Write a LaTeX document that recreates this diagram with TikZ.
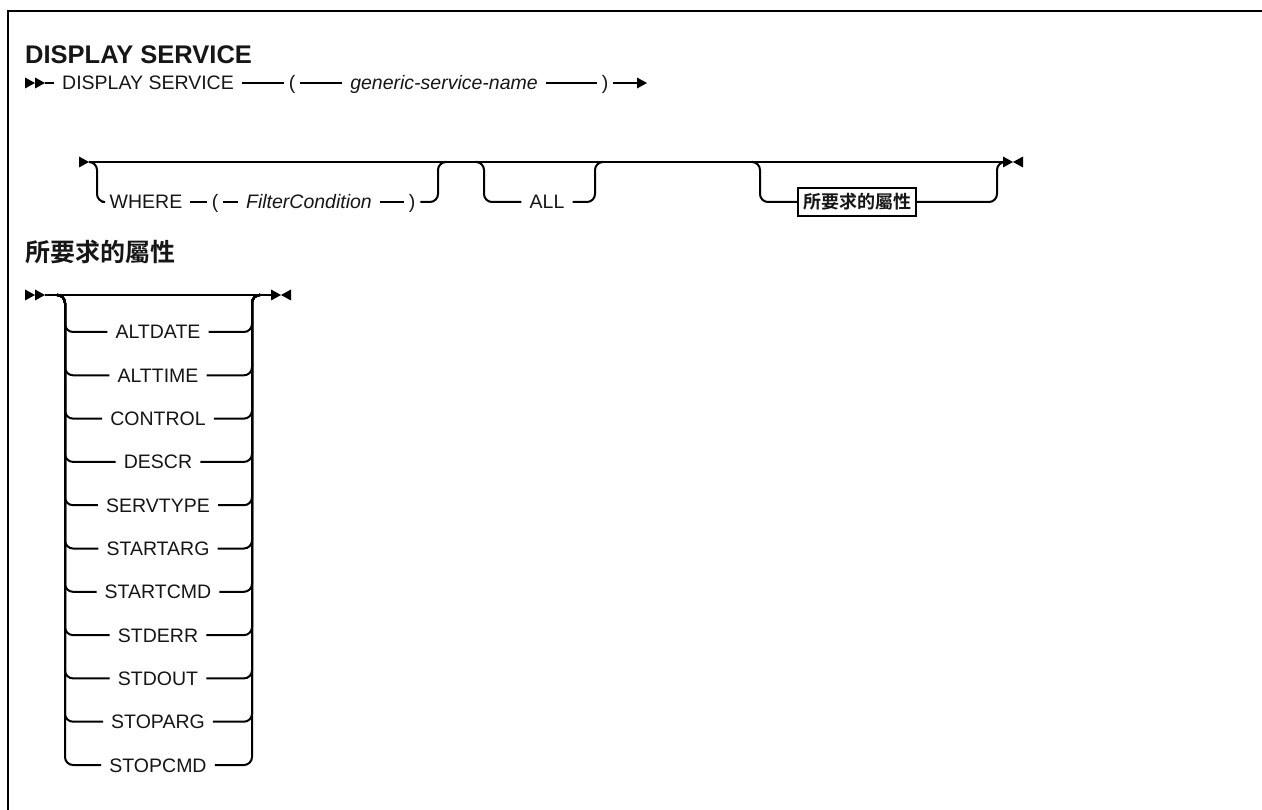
\documentclass[tikz,border=0pt]{standalone}
\usepackage{fontspec}
\setmainfont{Liberation Sans}
\newfontfamily\cjk{Noto Sans CJK TC}[BoldFont={Noto Sans CJK TC Bold}]
\usetikzlibrary{calc}
\definecolor{cBg}   {RGB}{255,255,255}
\definecolor{cLine} {RGB}{0,0,0}
\definecolor{cText} {RGB}{22,22,22}
\def\yA{83}    % first rail
\def\yB{162}   % second rail
\def\yBr{202}  % branches under the second rail
\def\yC{295}   % rail of the attribute list
\def\dy{43.3}  % step between attributes
\newcommand{\tipR}[1]{\fill[cLine] (#1) ++(0,-5.5) -- ++(10,5.5) -- ++(-10,5.5) -- cycle;}
\newcommand{\tipL}[1]{\fill[cLine] (#1) ++(0,-5.5) -- ++(-10,5.5) -- ++(10,5.5) -- cycle;}

\begin{document}
\begin{tikzpicture}[x=1pt,y=-1pt,
  rail/.style={draw=cLine,line width=2pt,rounded corners=8pt},
  kw/.style={font=\fontsize{19.5}{22}\selectfont,text=cText,inner xsep=8pt,
    inner ysep=0pt,text height=14pt,text depth=0pt},
  var/.style={kw,font=\fontsize{19.5}{22}\selectfont\itshape},
  paren/.style={kw,inner xsep=5pt},
  refbox/.style={draw=cLine,line width=2pt,text=cText,inner xsep=5pt,
    minimum height=28pt,font=\cjk\bfseries\fontsize{18}{20}\selectfont},
  head/.style={anchor=west,inner sep=0pt,text=cText}]

% fundo
\useasboundingbox (0,0) rectangle (1262,810);
\fill[cBg] (0,0) rectangle (1262,810);
\draw[cLine,line width=2.4pt] (1270,11) -- (8,11) -- (8,820);

% =================== TITLE ===================
\node[head,font=\bfseries\fontsize{25.5}{28}\selectfont] (title) at (25,55)
  {DISPLAY SERVICE};

% =================== RAIL 1 ===================
\coordinate (aIn) at (45,\yA);
\tipR{$(aIn)+(-20,0)$} \tipR{$(aIn)+(-10,0)$}
\node[kw] (aCmd) at (148,\yA) {DISPLAY SERVICE};
\node[paren] (aLp) at (292,\yA) {(};
\node[var] (aName) at (444,\yA) {generic-service-name};
\node[paren] (aRp) at (605,\yA) {)};
\coordinate (aOut) at (637,\yA);
\draw[rail] (aIn) -- (aCmd);
\draw[rail] (aCmd) -- (aLp);
\draw[rail] (aLp) -- (aName);
\draw[rail] (aName) -- (aRp);
\draw[rail] (aRp) -- (aOut);
\tipR{aOut}

% =================== RAIL 2 ===================
\coordinate (bIn) at (89,\yB);
\coordinate (bOut) at (1003,\yB);
\tipR{$(bIn)+(-10,0)$}
\draw[rail] (bIn) -- (bOut);
\tipR{bOut} \tipL{$(bOut)+(20,0)$}
% WHERE ( FilterCondition )
\coordinate (bJ1) at (97,\yB);
\coordinate (bJ2) at (438,\yB);
\node[kw] (bWhere) at (146,\yBr) {WHERE};
\node[paren] (bLp) at (215,\yBr) {(};
\node[var] (bFilter) at (309,\yBr) {FilterCondition};
\node[paren] (bRp) at (412,\yBr) {)};
\draw[rail] ($(bJ1)+(-7,0)$) -- (bJ1) |- (bWhere.west);
\draw[rail] (bWhere) -- (bLp);
\draw[rail] (bLp) -- (bFilter);
\draw[rail] (bFilter) -- (bRp);
\draw[rail] (bRp.east) -| (bJ2) -- ++(7,0);
% ALL
\coordinate (bJ3) at (484,\yB);
\coordinate (bJ4) at (595,\yB);
\node[kw] (bAll) at (547,\yBr) {ALL};
\draw[rail] ($(bJ3)+(-7,0)$) -- (bJ3) |- (bAll.west);
\draw[rail] (bAll.east) -| (bJ4) -- ++(7,0);
% fragment
\coordinate (bJ5) at (760,\yB);
\coordinate (bJ6) at (997,\yB);
\node[refbox] (bAttr) at (857,\yBr) {所要求的屬性};
\draw[rail] ($(bJ5)+(-7,0)$) -- (bJ5) |- (bAttr.west);
\draw[rail] (bAttr.east) -| (bJ6) -- ++(7,0);

% =================== FRAGMENT ===================
\node[head,font=\cjk\bfseries\fontsize{25}{28}\selectfont] (attrHead)
  at (25,252) {所要求的屬性};

\coordinate (cIn) at (45,\yC);
\coordinate (cOut) at (271,\yC);
\coordinate (cJL) at (65,\yC);
\coordinate (cJR) at (252,\yC);
\tipR{$(cIn)+(-20,0)$} \tipR{$(cIn)+(-10,0)$}
\draw[rail] (cIn) -- (cOut);
\tipR{cOut} \tipL{$(cOut)+(20,0)$}
\foreach \optName [count=\i] in {ALTDATE,ALTTIME,CONTROL,DESCR,SERVTYPE,
    STARTARG,STARTCMD,STDERR,STDOUT,STOPARG,STOPCMD} {
  \node[kw] (cOpt\i) at (158,{\yC+37+\dy*(\i-1)}) {\optName};
  \draw[rail] ($(cJL)+(-7,0)$) -- (cJL) |- (cOpt\i.west);
  \draw[rail] (cOpt\i.east) -| (cJR) -- ++(7,0);
}

\end{tikzpicture}
\end{document}
